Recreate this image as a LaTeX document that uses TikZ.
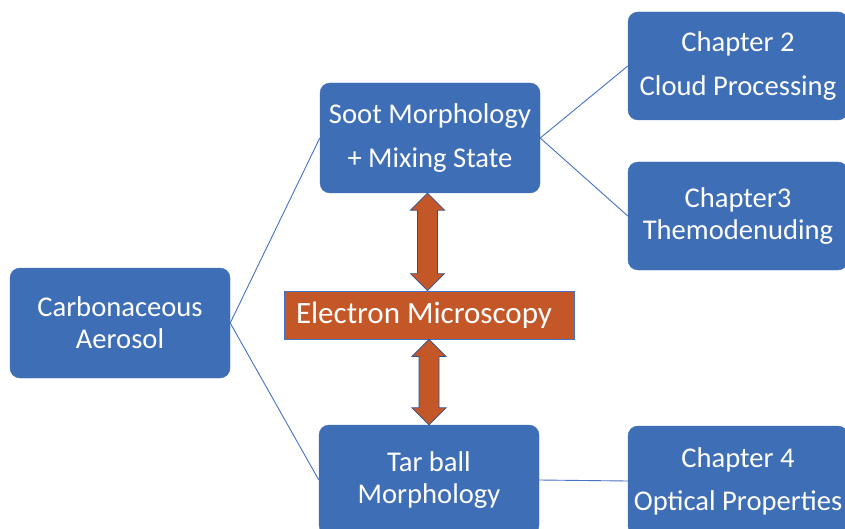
\documentclass[tikz,border=0pt]{standalone}
\usepackage{fontspec}
\setmainfont{Carlito}
\usetikzlibrary{calc}
\definecolor{boxblue}{RGB}{62,110,182}
\definecolor{emorange}{RGB}{196,87,40}
\definecolor{edgeblue}{RGB}{47,82,143}
\definecolor{lineblue}{RGB}{68,114,196}
\tikzset{
  bluebox/.style={draw=boxblue, fill=boxblue, rounded corners=10pt, text=white,
    minimum width=220pt, align=center, inner sep=0pt,
    font=\fontsize{28.6}{32}\selectfont},
  embox/.style={draw=lineblue, line width=0.8pt, fill=emorange, text=white,
    minimum width=290pt, minimum height=48pt, inner sep=0pt,
    font=\fontsize{31}{34}\selectfont},
  link/.style={draw=lineblue, line width=0.9pt},
  dblarrow/.style={fill=emorange, draw=edgeblue, line width=0.7pt, line join=miter}
}
\begin{document}
\begin{tikzpicture}[x=1pt,y=-1pt]
\useasboundingbox (0,0) rectangle (845,529);
\clip (0,0) rectangle (845,529);
\node[bluebox, minimum height=110pt] (carb) at (120,323) {Carbonaceous\\Aerosol};
\node[bluebox, minimum height=110pt] (soot) at (430,138) {Soot Morphology\\[12pt]+ Mixing State};
\node[bluebox, minimum height=108pt] (ch2) at (738,66) {Chapter 2\\[12pt]Cloud Processing};
\node[bluebox, minimum height=108pt] (ch3) at (738,216) {Chapter3\\Themodenuding};
\node[embox] (em) at (429,315) {\hspace*{-10pt}Electron Microscopy};
\node[bluebox, minimum height=110pt] (tar) at (429,480) {Tar ball\\Morphology};
\node[bluebox, minimum height=110pt] (ch4) at (738,481) {Chapter 4\\[11pt]Optical Properties};
% connectors
\draw[link] (carb.east) -- (soot.west);
\draw[link] (carb.east) -- (tar.west);
\draw[link] (soot.east) -- (ch2.west);
\draw[link] (soot.east) -- (ch3.west);
\draw[link] (tar.east) -- (ch4.west);
% double arrows
\coordinate (a1t) at ($(em.north |- soot.south)+(-1.5,0)$);
\coordinate (a1b) at ($(em.north)+(-1.5,0)$);
\coordinate (a2t) at ($(em.south)+(0,0)$);
\coordinate (a2b) at ($(em.south |- tar.north)+(0,0)$);
\foreach \t/\b in {a1t/a1b, a2t/a2b}{
  \draw[dblarrow] (\t) -- ($(\t)+(17,17)$) -- ($(\t)+(10,17)$) -- ($(\b)+(10,-17)$)
    -- ($(\b)+(17,-17)$) -- (\b) -- ($(\b)+(-17,-17)$) -- ($(\b)+(-10,-17)$)
    -- ($(\t)+(-10,17)$) -- ($(\t)+(-17,17)$) -- cycle;
}
\end{tikzpicture}
\end{document}
